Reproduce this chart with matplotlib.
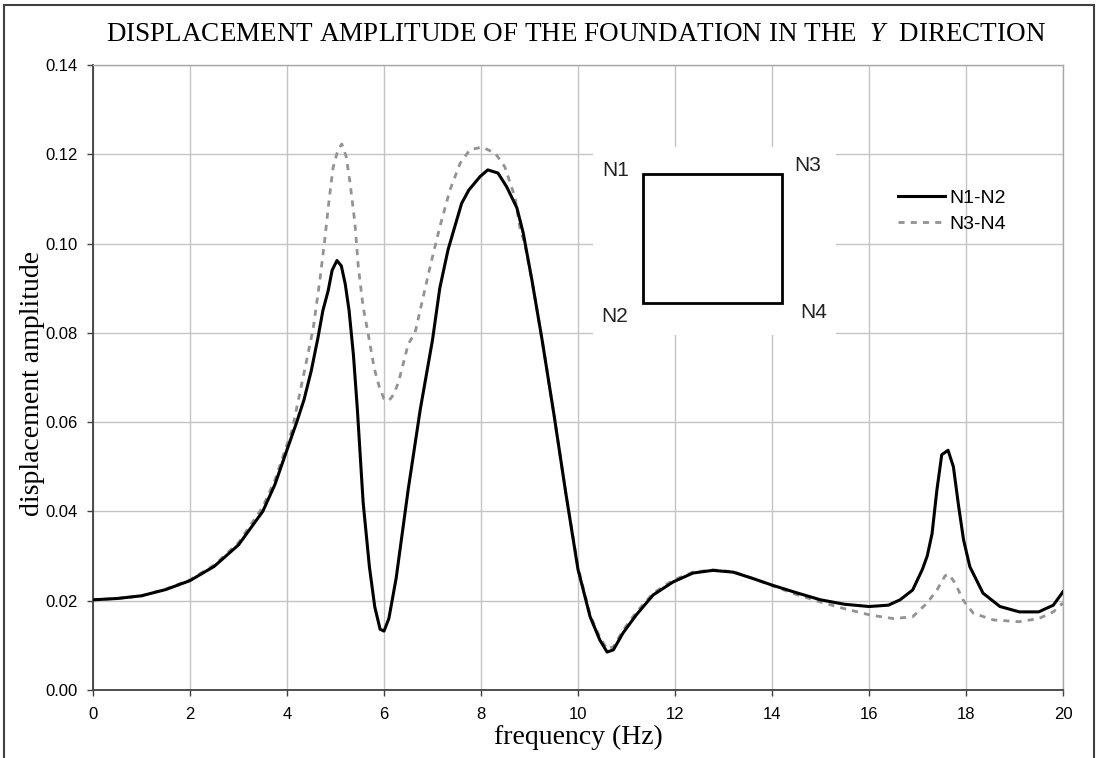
import matplotlib
matplotlib.use("Agg")
import matplotlib.pyplot as plt
from matplotlib.patches import Rectangle

# frequency (Hz) and displacement amplitude, node pair N1-N2
freq_n1n2 = [0.0, 0.5, 1.0, 1.5, 2.0, 2.5, 3.0, 3.5, 3.75, 4.0, 4.2, 4.35, 4.5,
             4.64, 4.74, 4.85, 4.93, 5.03, 5.12, 5.2, 5.28, 5.37, 5.45, 5.57,
             5.7, 5.81, 5.92, 6.0, 6.1, 6.25, 6.5, 6.75, 7.0, 7.15, 7.32, 7.6,
             7.75, 7.98, 8.14, 8.35, 8.53, 8.74, 8.87, 9.05, 9.26, 9.5, 9.75,
             10.0, 10.25, 10.45, 10.6, 10.73, 10.93, 11.2, 11.55, 11.96, 12.37,
             12.78, 13.2, 13.6, 14.0, 14.5, 15.0, 15.5, 16.0, 16.4, 16.64, 16.9,
             17.1, 17.2, 17.3, 17.4, 17.5, 17.63, 17.74, 17.85, 17.95, 18.08,
             18.35, 18.7, 19.1, 19.5, 19.8, 20.0]
amp_n1n2 = [0.0202, 0.0205, 0.0211, 0.0225, 0.0245, 0.0277, 0.0325, 0.0400,
            0.0460, 0.0538, 0.0600, 0.0650, 0.0715, 0.0790, 0.0850, 0.0895,
            0.0940, 0.0962, 0.0950, 0.0910, 0.0850, 0.0750, 0.0630, 0.0420,
            0.0275, 0.0186, 0.0136, 0.0132, 0.0160, 0.0250, 0.0450, 0.0630,
            0.0784, 0.0900, 0.0986, 0.1090, 0.1120, 0.1150, 0.1165, 0.1158,
            0.1127, 0.1080, 0.1024, 0.0918, 0.0784, 0.0620, 0.0440, 0.0270,
            0.0164, 0.0112, 0.0085, 0.0090, 0.0128, 0.0168, 0.0213, 0.0242,
            0.0262, 0.0268, 0.0264, 0.0250, 0.0235, 0.0218, 0.0202, 0.0192,
            0.0187, 0.0190, 0.0202, 0.0224, 0.0270, 0.0300, 0.0350, 0.0448,
            0.0527, 0.0537, 0.0500, 0.0410, 0.0336, 0.0276, 0.0217, 0.0187,
            0.0175, 0.0175, 0.0190, 0.0220]

# node pair N3-N4
freq_n3n4 = [0.0, 0.5, 1.0, 1.5, 2.0, 2.5, 3.0, 3.5, 3.75, 4.0, 4.1, 4.37, 4.54,
             4.68, 4.78, 4.87, 4.95, 5.05, 5.13, 5.22, 5.3, 5.4, 5.47, 5.57,
             5.67, 5.8, 5.9, 6.0, 6.1, 6.2, 6.3, 6.5, 6.64, 6.78, 6.95, 7.15,
             7.36, 7.57, 7.77, 8.02, 8.29, 8.49, 8.7, 8.8, 8.9, 9.05, 9.26, 9.5,
             9.75, 10.0, 10.25, 10.45, 10.6, 10.73, 10.93, 11.2, 11.55, 11.96,
             12.37, 12.78, 13.2, 13.6, 14.0, 14.5, 15.0, 15.5, 16.02, 16.5, 16.9,
             17.2, 17.4, 17.57, 17.65, 17.77, 17.95, 18.15, 18.56, 19.1, 19.5,
             19.8, 20.0]
amp_n3n4 = [0.0202, 0.0205, 0.0211, 0.0226, 0.0247, 0.0280, 0.0330, 0.0410,
            0.0470, 0.0550, 0.0580, 0.0720, 0.0810, 0.0920, 0.1010, 0.1100,
            0.1170, 0.1210, 0.1223, 0.1195, 0.1136, 0.1046, 0.0948, 0.0858,
            0.0800, 0.0720, 0.0680, 0.0652, 0.0648, 0.0662, 0.0690, 0.0775,
            0.0800, 0.0867, 0.0948, 0.1037, 0.1120, 0.1180, 0.1210, 0.1216,
            0.1203, 0.1172, 0.1104, 0.1037, 0.1000, 0.0918, 0.0784, 0.0620,
            0.0440, 0.0275, 0.0168, 0.0118, 0.0092, 0.0097, 0.0134, 0.0174,
            0.0217, 0.0246, 0.0264, 0.0269, 0.0265, 0.0250, 0.0234, 0.0214,
            0.0197, 0.0182, 0.0168, 0.0160, 0.0164, 0.0195, 0.0224, 0.0256,
            0.0259, 0.0240, 0.0200, 0.0172, 0.0157, 0.0153, 0.0160, 0.0175,
            0.0195]

x_ticks = [0, 2, 4, 6, 8, 10, 12, 14, 16, 18, 20]
y_ticks = [0.00, 0.02, 0.04, 0.06, 0.08, 0.10, 0.12, 0.14]

serif = "Liberation Serif"
sans = "Liberation Sans"
plt.rcParams["mathtext.fontset"] = "custom"
plt.rcParams["mathtext.it"] = "Liberation Serif:italic"
plt.rcParams["mathtext.rm"] = "Liberation Serif"

fig = plt.figure(figsize=(10.97, 7.58), dpi=100)
ax = fig.add_axes([93 / 1097, 1 - 690 / 758, 970 / 1097, 625 / 758])

ax.plot(freq_n1n2, amp_n1n2, color="black", lw=2.2, label="N1-N2", zorder=4)
ax.plot(freq_n3n4, amp_n3n4, color="#939393", lw=2.0, dashes=(2.2, 2.2),
        label="N3-N4", zorder=3)

ax.set_xlim(0, 20)
ax.set_ylim(0, 0.14)
ax.set_xticks(x_ticks)
ax.set_yticks(y_ticks)
ax.set_xticklabels([str(t) for t in x_ticks], fontfamily=sans, fontsize=12)
ax.set_yticklabels([f"{t:.2f}" for t in y_ticks], fontfamily=sans, fontsize=12)
ax.tick_params(axis="both", direction="out", length=4, width=1, color="#404040")
ax.tick_params(axis="x", pad=8)
ax.tick_params(axis="y", pad=7)
ax.grid(True, color="#c4c4c4", lw=1)
ax.set_axisbelow(True)
for side in ["left", "bottom"]:
    ax.spines[side].set_color("#404040")
    ax.spines[side].set_linewidth(1.3)
for side in ["top", "right"]:
    ax.spines[side].set_color("#a8a8a8")
    ax.spines[side].set_linewidth(1)

ax.set_xlabel("frequency (Hz)", fontfamily=serif, fontsize=20, labelpad=2)
ax.set_ylabel("displacement amplitude", fontfamily=serif, fontsize=20)
ax.yaxis.set_label_coords(-0.05, 0.49)
fig.text(0.525, 0.955,
         "DISPLACEMENT AMPLITUDE OF THE FOUNDATION IN THE  $Y$  DIRECTION",
         ha="center", va="center", fontfamily=serif, fontsize=19.5)

# inset sketch of the foundation
ax.add_patch(Rectangle((10.31, 0.0795), 5.01, 0.0421, facecolor="white",
                       edgecolor="none", zorder=2))
ax.add_patch(Rectangle((11.34, 0.0867), 2.87, 0.0289, facecolor="none",
                       edgecolor="black", lw=2, zorder=5))
for name, xx, yy in [("N1", 10.78, 0.1163), ("N3", 14.74, 0.1176),
                     ("N2", 10.76, 0.0836), ("N4", 14.85, 0.0845)]:
    ax.text(xx, yy, name, ha="center", va="center", fontfamily=sans,
            fontsize=15, color="#222222", zorder=5)

leg = ax.legend(loc="upper left", bbox_to_anchor=(0.82, 0.817), frameon=False,
                handlelength=2.4, handletextpad=0.25, labelspacing=0.45,
                borderpad=0, prop={"family": sans, "size": 14})

# outer frame around the chart
fig.patches.append(Rectangle((4 / 1097, -0.05), 1090 / 1097, 1.05 - 5 / 758,
                             transform=fig.transFigure, fill=False,
                             edgecolor="#404040", lw=1.5))

fig.savefig("out.png", dpi=100)
